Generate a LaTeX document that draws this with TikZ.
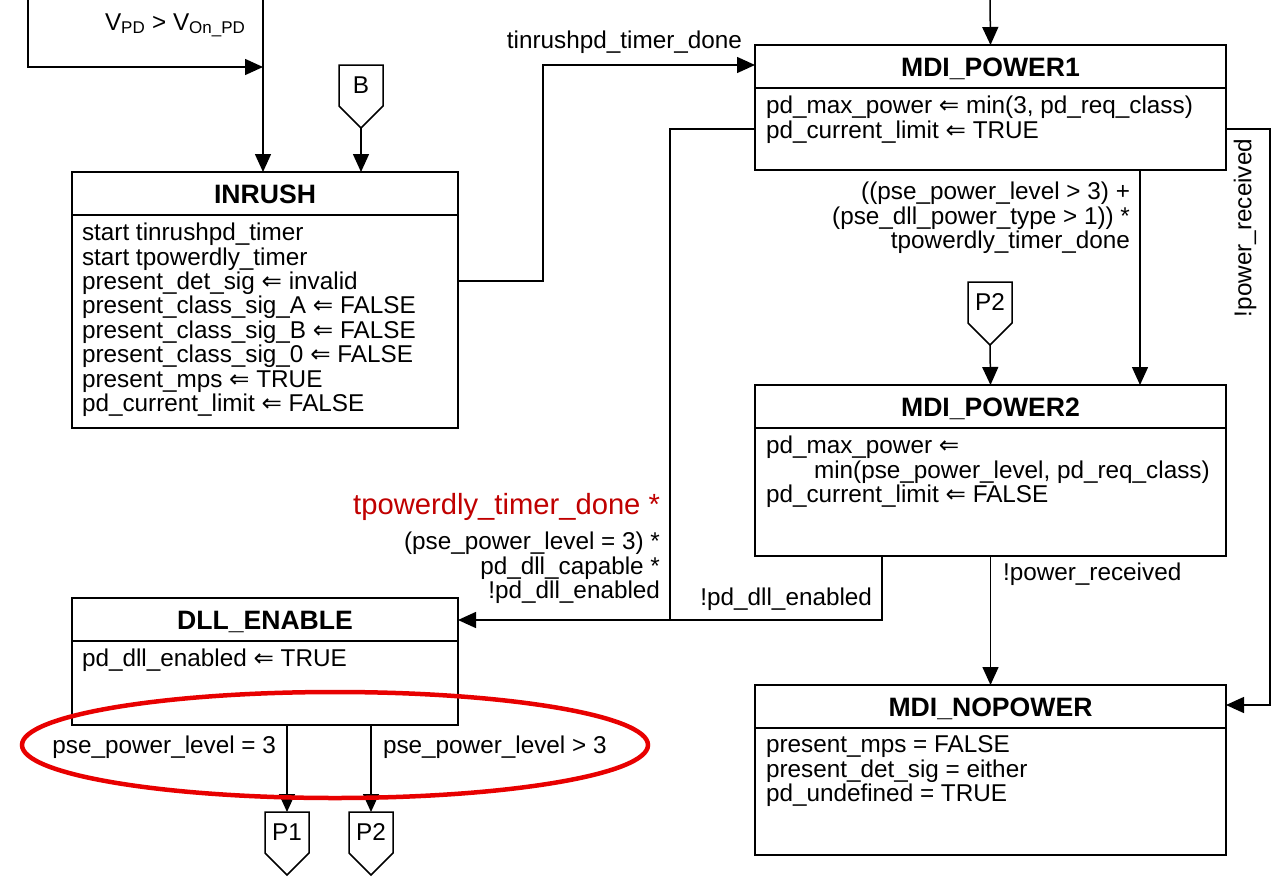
\documentclass[tikz,border=0pt]{standalone}
\usepackage{fontspec}
\setmainfont{Liberation Sans}
\newfontfamily\arrowfont{DejaVu Sans}
\usetikzlibrary{arrows.meta, calc, positioning, shapes.geometric}
\definecolor{tred}{RGB}{192,0,0}
\definecolor{hlred}{RGB}{232,0,0}
\newcommand{\bodyfnt}{\fontsize{24.3}{24.4}\selectfont}
\newcommand{\titlefnt}{\fontsize{26.6}{28}\selectfont\bfseries}
\newcommand{\redfnt}{\fontsize{29.2}{30}\selectfont}
\newcommand{\lgetsarrow}{{\arrowfont ⇐}}

\begin{document}
\begin{tikzpicture}[
        x=1pt, y=-1pt,
        every node/.style={font=\bodyfnt, inner sep=0pt, outer sep=0pt},
        state/.style={draw, line width=1.5pt, anchor=north west},
        title/.style={font=\titlefnt, anchor=base},
        body/.style={align=left, anchor=north west},
        wire/.style={line width=1.5pt},
        arr/.style={wire, -{Triangle[length=18pt,width=16pt]}},
        offpage/.style={minimum width=44pt, minimum height=41pt}
    ]
        \useasboundingbox (0,0) rectangle (1273,878);

        % state boxes
        \foreach \n/\x/\y/\w/\h/\t in {inrush/72/172/386/256/INRUSH, dll/72/598/386/127/DLL\_ENABLE,
                p1/755/45/471/125/MDI\_POWER1, p2/755/385/471/171/MDI\_POWER2, nop/755/685/471/170/MDI\_NOPOWER} {
            \node[state, minimum width=\w pt, minimum height=\h pt] (\n) at (\x,\y) {};
            \node[title] (\n-t) at ([yshift=-31pt]\n.north) {\t};
            \draw[wire] ([yshift=-43pt]\n.north west) -- ([yshift=-43pt]\n.north east);
        }

        \node[body] (inrush-b) at ([xshift=10pt,yshift=-51pt]inrush.north west)
            {start tinrushpd\_timer\\start tpowerdly\_timer\\present\_det\_sig \lgetsarrow{} invalid\\
             present\_class\_sig\_A \lgetsarrow{} FALSE\\present\_class\_sig\_B \lgetsarrow{} FALSE\\
             present\_class\_sig\_0 \lgetsarrow{} FALSE\\present\_mps \lgetsarrow{} TRUE\\
             pd\_current\_limit \lgetsarrow{} FALSE};
        \node[body] (dll-b) at ([xshift=10pt,yshift=-51pt]dll.north west)
            {pd\_dll\_enabled \lgetsarrow{} TRUE};
        \node[body] (p1-b) at ([xshift=11pt,yshift=-51pt]p1.north west)
            {pd\_max\_power \lgetsarrow{} min(3, pd\_req\_class)\\pd\_current\_limit \lgetsarrow{} TRUE};
        \node[body] (p2-b) at ([xshift=11pt,yshift=-51pt]p2.north west)
            {pd\_max\_power \lgetsarrow\\\hspace*{48pt}min(pse\_power\_level, pd\_req\_class)\\
             pd\_current\_limit \lgetsarrow{} FALSE};
        \node[body] (nop-b) at ([xshift=11pt,yshift=-51pt]nop.north west)
            {present\_mps = FALSE\\present\_det\_sig = either\\pd\_undefined = TRUE};

        % off-page connectors
        \node[offpage] (b) at (361,85.5) {B};
        \node[offpage] (p2top) at (990,302.5) {P2};
        \node[offpage] (p1bot) at (287,832.5) {P1};
        \node[offpage] (p2bot) at (371,832.5) {P2};
        \foreach \c in {b, p2top, p1bot, p2bot} {
            \draw[wire] (\c.north west) -- (\c.south west) -- ([yshift=-22pt]\c.south) coordinate (\c-tip)
                -- (\c.south east) -- (\c.north east) -- cycle;
        }

        % loose ends
        \coordinate (vpd) at (263,0);
        \coordinate (lft) at (28,0);
        \coordinate (jn) at (263,67);
        \coordinate (top1) at (990,0);

        % transitions
        \draw[arr] (vpd) -- (vpd |- inrush.north);
        \draw[arr] (lft) |- (jn);
        \draw[arr] (b-tip) -- (b-tip |- inrush.north);
        \draw[arr] (top1) -- (p1.north);
        \draw[arr] ([yshift=-109pt]inrush.north east) -- ++(85,0) |- ([yshift=-20pt]p1.north west);
        \draw[wire] ([yshift=-84pt]p1.north west) -- ++(-85,0) -- ++(0,491);
        \draw[arr] ([xshift=127pt]p2.south west) |- ([yshift=-22pt]dll.north east);
        \draw[arr] ([xshift=-86pt]p1.south east) -- ([xshift=-86pt]p2.north east);
        \draw[arr] (p2top-tip) -- (p2.north);
        \draw[arr] ([yshift=-84pt]p1.north east) -- ++(44,0) |- ([yshift=-20pt]nop.north east);
        \draw[arr] (p2.south) -- (nop.north);
        \draw[arr] (p1bot.north |- dll.south) -- (p1bot.north);
        \draw[arr] (p2bot.north |- dll.south) -- (p2bot.north);

        % labels
        \node[anchor=base west] (vpd-l) at (105,30) {V\textsubscript{PD} > V\textsubscript{On\_PD}};
        \node[anchor=base east] (tin-l) at (742,48) {tinrushpd\_timer\_done};
        \node[anchor=north east, align=right] (up-l) at (1130,182)
            {((pse\_power\_level > 3) +\\(pse\_dll\_power\_type > 1)) *\\tpowerdly\_timer\_done};
        \node[rotate=90] (pr1-l) at (1245,228) {!power\_received};
        \node[anchor=base west] (pr2-l) at (1003,580) {!power\_received};
        \node[anchor=base east, font=\redfnt, text=tred] (red-l) at (660,514) {tpowerdly\_timer\_done *};
        \node[anchor=north east, align=right] (dll-l) at (660,532)
            {(pse\_power\_level = 3) *\\pd\_dll\_capable *\\!pd\_dll\_enabled};
        \node[anchor=base east] (pdd-l) at (872,605) {!pd\_dll\_enabled};
        \node[anchor=base east] (eq-l) at (276,753) {pse\_power\_level = 3};
        \node[anchor=base west] (gt-l) at (383,753) {pse\_power\_level > 3};

        % highlight
        \node[ellipse, draw=hlred, line width=4.5pt, minimum width=626pt, minimum height=106pt] (hl) at (335,745) {};
    \end{tikzpicture}
\end{document}
